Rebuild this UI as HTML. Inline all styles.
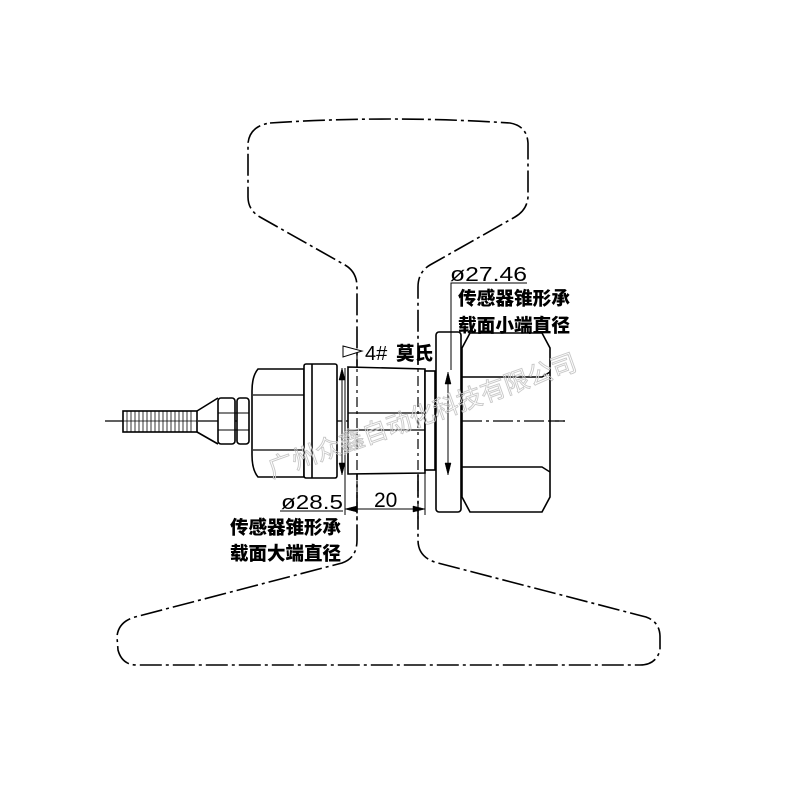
<!DOCTYPE html>
<html><head><meta charset="utf-8"><style>
body{margin:0;background:#fff}
svg{display:block}
.t{font-family:"Liberation Sans","Noto Sans CJK SC",sans-serif}
.cn{font-family:"Noto Sans CJK SC","WenQuanYi Zen Hei",sans-serif;font-weight:900;font-size:18.5px}
</style></head><body>
<svg width="800" height="800" viewBox="0 0 800 800" xmlns="http://www.w3.org/2000/svg">
<g fill="none" stroke="#000" stroke-width="1.6">
<path stroke-dasharray="22 4 3 4" d="M270 123 Q390 115 510 123 Q527 126 528 143 L528 197 Q527 210 515 217 L430 265 Q418 272 418 287 L418 540 Q418 558 438 563 L646 617 Q660 622 660 637 L660 650 Q656 665 640 665 L137 665 Q122 665 118 650 L117 637 Q118 622 135 617 L342 563 Q357 558 357 540 L357 287 Q357 272 345 265 L260 217 Q248 210 248 197 L248 143 Q250 126 270 123 Z"/>
<line x1="105" y1="421" x2="565" y2="421" stroke-width="1.2" stroke-dasharray="20 4 3 4"/>
<rect x="123" y="411" width="74" height="21" fill="#fff"/>
<g stroke-width="0.8">
<line x1="127" y1="411" x2="127" y2="432"/><line x1="131" y1="411" x2="131" y2="432"/><line x1="135" y1="411" x2="135" y2="432"/><line x1="139" y1="411" x2="139" y2="432"/><line x1="143" y1="411" x2="143" y2="432"/><line x1="147" y1="411" x2="147" y2="432"/><line x1="151" y1="411" x2="151" y2="432"/><line x1="155" y1="411" x2="155" y2="432"/><line x1="159" y1="411" x2="159" y2="432"/><line x1="163" y1="411" x2="163" y2="432"/><line x1="167" y1="411" x2="167" y2="432"/><line x1="171" y1="411" x2="171" y2="432"/><line x1="175" y1="411" x2="175" y2="432"/><line x1="179" y1="411" x2="179" y2="432"/><line x1="183" y1="411" x2="183" y2="432"/><line x1="187" y1="411" x2="187" y2="432"/><line x1="191" y1="411" x2="191" y2="432"/>
<line x1="123" y1="421" x2="197" y2="421"/>
</g>
<path d="M197 411 L218 398 M197 432 L218 444" />
<rect x="218" y="398" width="17" height="46" rx="3" fill="#fff"/>
<rect x="237" y="398" width="12" height="46" rx="3" fill="#fff"/>
<path d="M218 413 H249 M218 430 H249" stroke-width="1"/>
<path d="M258 369 H304 V477 H258 Q252 470 252 455 V391 Q252 376 258 369 Z" fill="#fff"/>
<path d="M253 395 H304 M253 450 H304" stroke-width="1.2"/>
<rect x="304" y="364" width="33" height="114" rx="2" fill="#fff"/>
<line x1="312" y1="364" x2="312" y2="478"/>
<line x1="342" y1="368" x2="342" y2="475" stroke-width="1"/>
<path d="M342 368 l-3 12 h6 z M342 475 l-3 -12 h6 z" fill="#000" stroke-width="0.5"/>
<line x1="345" y1="368" x2="345" y2="515" stroke-width="1"/>
<path d="M348 367 L425 369 V473 L348 474 Z" fill="#fff"/>
<path d="M348 413 H425 M348 430 H425" stroke-width="1.2"/>
<rect x="425" y="371" width="10" height="99" fill="#fff"/>
<line x1="425" y1="470" x2="425" y2="515" stroke-width="1"/>
<line x1="357" y1="355" x2="357" y2="520" stroke-width="1.2" stroke-dasharray="10 4 3 4"/>
<line x1="418" y1="355" x2="418" y2="520" stroke-width="1.2" stroke-dasharray="10 4 3 4"/>
<rect x="436" y="332" width="25" height="180" rx="3" fill="#fff"/>
<line x1="448" y1="372" x2="448" y2="475" stroke-width="1"/>
<path d="M448 372 l-3 12 h6 z M448 475 l-3 -12 h6 z" fill="#000" stroke-width="0.5"/>
<path d="M470 333 H542 L550 348 V497 L542 512 H470 L462 497 V348 Z" fill="#fff"/>
<path d="M462 377 H542 L550 372 M462 467 H542 L550 472" stroke-width="1.4"/>
<line x1="462" y1="421" x2="565" y2="421" stroke-width="1.2" stroke-dasharray="20 4 3 4"/>
<path d="M527 283 H451 V370" stroke-width="1"/>
<line x1="345" y1="509" x2="425" y2="509" stroke-width="1"/>
<path d="M345 509 l12 -3 v6 z M425 509 l-12 -3 v6 z" fill="#000" stroke-width="0.5"/>
<line x1="280" y1="511" x2="343" y2="511" stroke-width="1"/>
<path d="M343 346 L362 351 L343 357 Z" stroke-width="1"/>
</g>
<text class="t" x="0" y="0" transform="translate(272,478) rotate(-19.5)" font-size="25" fill="none" stroke="#c8c8c8" stroke-width="0.9">广州众鑫自动化科技有限公司</text>
<text class="t" x="450" y="281" font-size="20" fill="#000" textLength="77" lengthAdjust="spacingAndGlyphs">ø27.46</text>
<text class="t" x="281" y="509" font-size="20" fill="#000" textLength="62" lengthAdjust="spacingAndGlyphs">ø28.5</text>
<text class="t" x="374" y="507" font-size="21" fill="#000">20</text>
<text class="t" x="365" y="360" font-size="20" fill="#000">4#</text>
<text class="cn" x="396" y="360" font-size="19">莫氏</text>
<text class="cn" x="458" y="305" textLength="112" lengthAdjust="spacingAndGlyphs">传感器锥形承</text>
<text class="cn" x="458" y="332" textLength="112" lengthAdjust="spacingAndGlyphs">载面小端直径</text>
<text class="cn" x="230" y="534" textLength="111" lengthAdjust="spacingAndGlyphs">传感器锥形承</text>
<text class="cn" x="230" y="560" textLength="111" lengthAdjust="spacingAndGlyphs">载面大端直径</text>
</svg>
</body></html>
